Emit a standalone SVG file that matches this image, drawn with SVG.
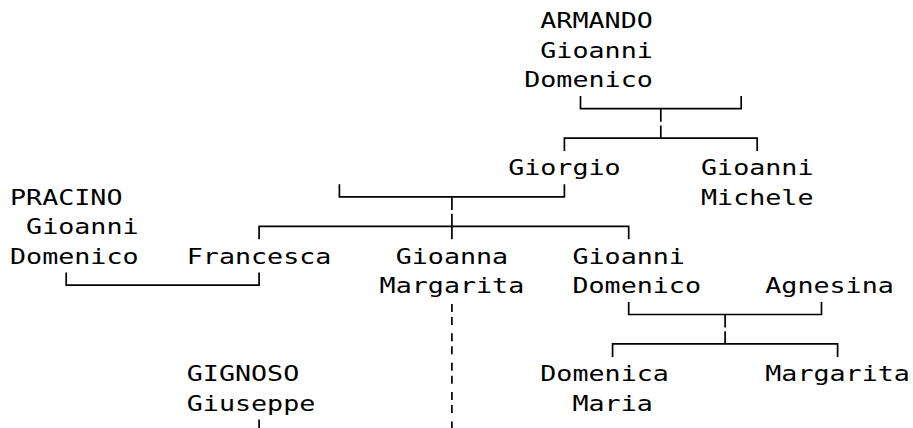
<svg xmlns="http://www.w3.org/2000/svg" width="913" height="428" viewBox="0 0 913 428">
<style>
.t{font-family:"DejaVu Sans Mono","Liberation Mono",monospace;font-size:22px;fill:#000}
.c{stroke:#000;stroke-width:1.7;fill:none}
</style>
<rect width="913" height="428" fill="#fff"/>
<g id="connectors">
<path class="c" d="M580.5,96.1V108.7H741.2V96.1M660.8,108.7V121.7M660.8,125.5V138.1M564.4,151.1V138.1H757.2V151.1"/>
<path class="c" d="M339.4,184.3V196.9H564.4V184.3M451.9,196.9V209.9M451.9,213.7V239.3M259.1,239.3V226.3H628.7V239.3"/>
<path class="c" d="M66.2,272.5V285.1H259.1V272.5"/>
<path class="c" d="M628.7,301.9V314.5H821.5V301.9M725.1,314.5V327.5M725.1,331.3V343.9M612.6,356.9V343.9H837.6V356.9"/>
<path class="c" d="M259.1,419.5V428"/>
<path class="c" d="M451.9,303.9V311.9M451.9,316.9V324.9M451.9,333.3V341.3M451.9,346.3V354.3M451.9,362.7V370.7M451.9,375.7V383.7M451.9,392.1V400.1M451.9,405.1V413.1M451.9,421.5V429.5"/>
</g>
<g id="armando"><text class="t" x="540.31" y="28.3" textLength="112.49" lengthAdjust="spacingAndGlyphs">ARMANDO</text><text class="t" x="540.31" y="57.7" textLength="112.49" lengthAdjust="spacingAndGlyphs">Gioanni</text><text class="t" x="524.24" y="87.1" textLength="128.56" lengthAdjust="spacingAndGlyphs">Domenico</text></g>
<g id="giorgio"><text class="t" x="508.17" y="175.3" textLength="112.49" lengthAdjust="spacingAndGlyphs">Giorgio</text></g>
<g id="gioanni-michele"><text class="t" x="701.01" y="175.3" textLength="112.49" lengthAdjust="spacingAndGlyphs">Gioanni</text><text class="t" x="701.01" y="204.7" textLength="112.49" lengthAdjust="spacingAndGlyphs">Michele</text></g>
<g id="pracino"><text class="t" x="10" y="204.7" textLength="112.49" lengthAdjust="spacingAndGlyphs">PRACINO</text><text class="t" x="26.07" y="234.1" textLength="112.49" lengthAdjust="spacingAndGlyphs">Gioanni</text><text class="t" x="10" y="263.5" textLength="128.56" lengthAdjust="spacingAndGlyphs">Domenico</text></g>
<g id="francesca"><text class="t" x="186.77" y="263.5" textLength="144.63" lengthAdjust="spacingAndGlyphs">Francesca</text></g>
<g id="gioanna-margarita"><text class="t" x="395.68" y="263.5" textLength="112.49" lengthAdjust="spacingAndGlyphs">Gioanna</text><text class="t" x="379.61" y="292.9" textLength="144.63" lengthAdjust="spacingAndGlyphs">Margarita</text></g>
<g id="gioanni-domenico"><text class="t" x="572.45" y="263.5" textLength="112.49" lengthAdjust="spacingAndGlyphs">Gioanni</text><text class="t" x="572.45" y="292.9" textLength="128.56" lengthAdjust="spacingAndGlyphs">Domenico</text></g>
<g id="agnesina"><text class="t" x="765.29" y="292.9" textLength="128.56" lengthAdjust="spacingAndGlyphs">Agnesina</text></g>
<g id="gignoso"><text class="t" x="186.77" y="381.1" textLength="112.49" lengthAdjust="spacingAndGlyphs">GIGNOSO</text><text class="t" x="186.77" y="410.5" textLength="128.56" lengthAdjust="spacingAndGlyphs">Giuseppe</text></g>
<g id="domenica-maria"><text class="t" x="540.31" y="381.1" textLength="128.56" lengthAdjust="spacingAndGlyphs">Domenica</text><text class="t" x="572.45" y="410.5" textLength="80.35" lengthAdjust="spacingAndGlyphs">Maria</text></g>
<g id="margarita"><text class="t" x="765.29" y="381.1" textLength="144.63" lengthAdjust="spacingAndGlyphs">Margarita</text></g>
</svg>
